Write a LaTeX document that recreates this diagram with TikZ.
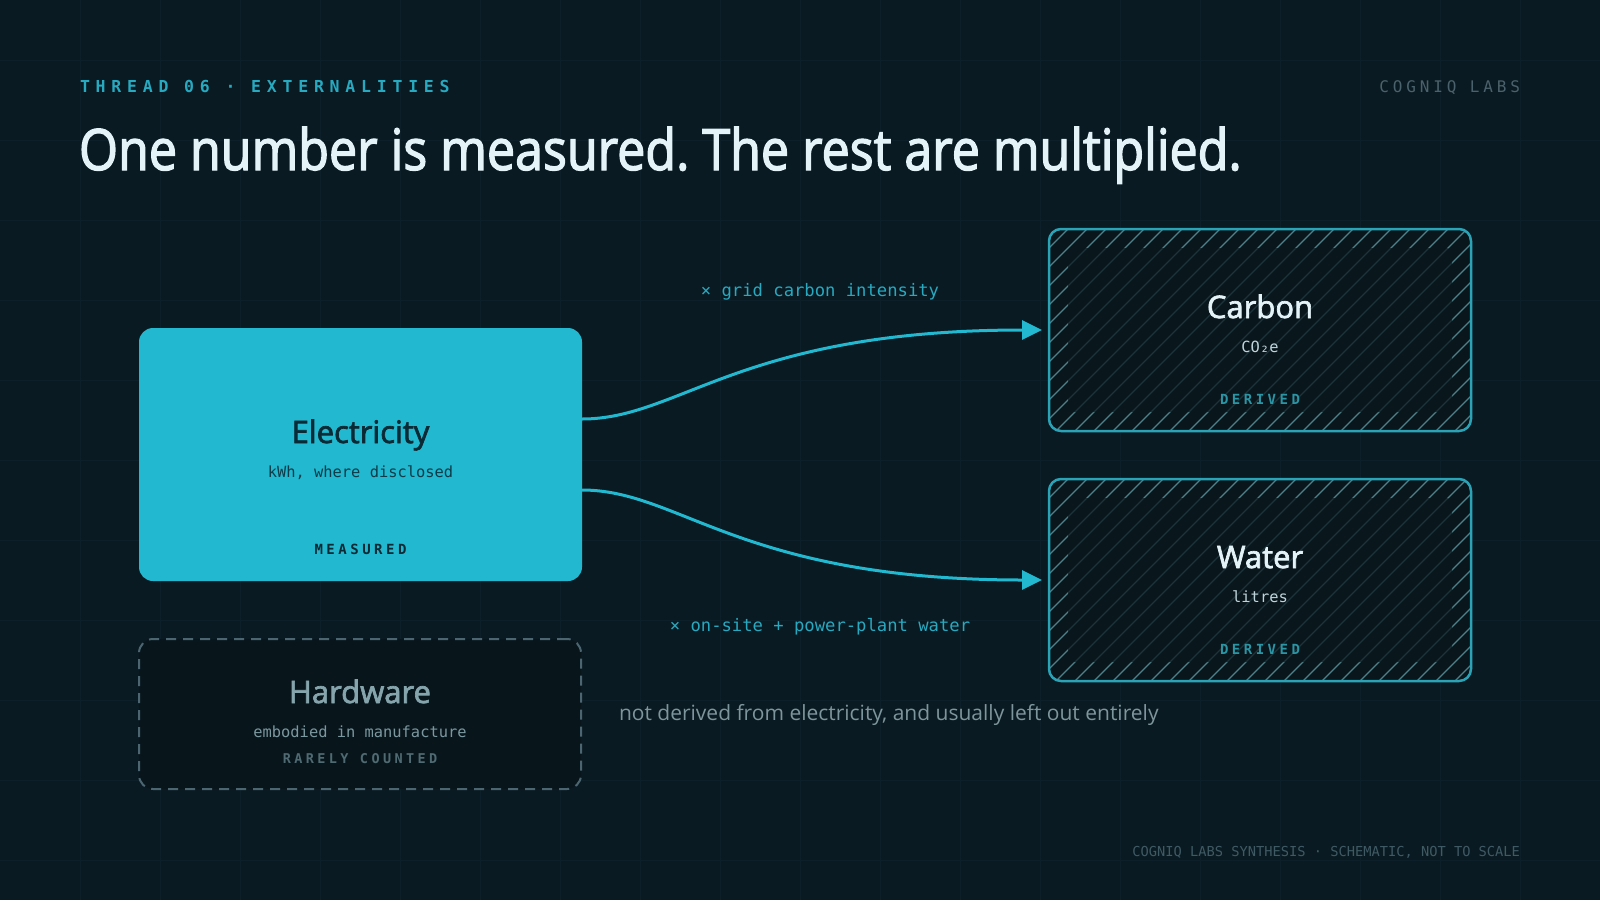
\documentclass[tikz,border=0pt]{standalone}
\usepackage{fontspec}
\usetikzlibrary{arrows.meta,calc}
\setmainfont{Open Sans}
\newfontfamily\semib[FakeBold=2.2]{Open Sans}
\newfontfamily\headf[FakeBold=2.2,FakeStretch=0.88]{Open Sans}
\newfontfamily\mono{DejaVu Sans Mono}
\newfontfamily\trkA[LetterSpace=35]{DejaVu Sans Mono}
\newfontfamily\trkB[LetterSpace=24]{DejaVu Sans Mono}
\newfontfamily\trkC[LetterSpace=25]{DejaVu Sans Mono}
\definecolor{bg}{HTML}{0A1A22}
\definecolor{gridc}{HTML}{0D1F28}
\definecolor{cyanA}{HTML}{22B8CF}
\definecolor{teal}{HTML}{2AA3B6}
\definecolor{tealtxt}{HTML}{27A9C0}
\definecolor{darktxt}{HTML}{0A2A35}
\definecolor{darksub}{HTML}{0E3B49}
\definecolor{white1}{HTML}{E4F3F8}
\definecolor{sub1}{HTML}{BFD5DB}
\definecolor{hatchc}{HTML}{4E8089}
\definecolor{innerc}{HTML}{09161C}
\definecolor{derc}{HTML}{2A95A5}
\definecolor{hwline}{HTML}{4B6670}
\definecolor{hwfill}{HTML}{08161C}
\definecolor{hwtitle}{HTML}{86A4AC}
\definecolor{hwsub}{HTML}{7B979F}
\definecolor{hwtag}{HTML}{4F6A72}
\definecolor{note}{HTML}{7D959C}
\definecolor{brand}{HTML}{4A626B}
\definecolor{foot}{HTML}{3F5A63}
\tikzset{
  lbl/.style={inner sep=0pt, outer sep=0pt, anchor=base},
  elecbox/.style={fill=cyanA, rounded corners=14pt, inner sep=0pt, outer sep=0pt},
  derbox/.style={draw=teal, line width=2.5pt, rounded corners=12pt, inner sep=0pt, outer sep=0pt},
  hwbox/.style={draw=hwline, fill=hwfill, line width=2pt, dash pattern=on 10pt off 7pt, rounded corners=14pt, inner sep=0pt, outer sep=0pt},
  flow/.style={draw=cyanA, line width=3pt, -{Triangle[length=20pt,width=19pt]}, shorten >=7pt},
  boxtitle/.style={lbl, font=\semib\fontsize{31}{36}\selectfont},
  boxsub/.style={lbl, font=\mono\fontsize{15.4}{18}\selectfont},
  boxtag/.style={lbl, font=\trkC\bfseries\fontsize{14}{16}\selectfont},
}
\frenchspacing
\begin{document}
\begin{tikzpicture}[x=1pt,y=-1pt]
\useasboundingbox (0,0) rectangle (1600,900);
\fill[bg] (0,0) rectangle (1600,900);
\foreach \gx in {80,160,...,1520} \draw[gridc, line width=0.8pt] (\gx,0) -- (\gx,900);
\foreach \gy in {60,140,...,860} \draw[gridc, line width=0.8pt] (0,\gy) -- (1600,\gy);

% header
\node[lbl, anchor=base west, text=tealtxt, font=\trkA\bfseries\fontsize{16.5}{20}\selectfont] (kicker) at (80,92) {THREAD 06 · EXTERNALITIES};
\node[lbl, anchor=base east, text=brand, font=\trkB\fontsize{16}{20}\selectfont] (brandtop) at (1520,92) {COGNIQ LABS};
\node[lbl, anchor=base west, text=white1, font=\headf\fontsize{57}{64}\selectfont] (headline) at (79,170) {One number is measured. The rest are multiplied.};

% electricity
\node[elecbox, minimum width=443pt, minimum height=253pt] (elec) at (360.5,454.5) {};
\node[boxtitle, text=darktxt] (elecT) at (360.5,443) {Electricity};
\node[boxsub, text=darksub] (elecS) at (360.5,477) {kWh, where disclosed};
\node[boxtag, text=darktxt] (elecM) at (360.5,554) {MEASURED};

% carbon box with hatch
\begin{scope}
  \clip[rounded corners=12pt] (1049,229) rectangle (1471,431);
  \fill[innerc] (1049,229) rectangle (1471,431);
  \foreach \hx in {847,866,...,1480} \draw[hatchc, line width=1.2pt] (\hx,431) -- ++(202,-202);
  \fill[innerc, opacity=0.72, rounded corners=6pt] (1068,248) rectangle (1452,412);
\end{scope}
\node[derbox, minimum width=422pt, minimum height=202pt] (carbon) at (1260,330) {};
\node[boxtitle, text=white1] (carbT) at (1260,318) {Carbon};
\node[boxsub, text=sub1] (carbS) at (1260,352) {CO₂e};
\node[boxtag, text=derc] (carbD) at (1260,404) {DERIVED};

% water box with hatch
\begin{scope}
  \clip[rounded corners=12pt] (1049,479) rectangle (1471,681);
  \fill[innerc] (1049,479) rectangle (1471,681);
  \foreach \hx in {847,866,...,1480} \draw[hatchc, line width=1.2pt] (\hx,681) -- ++(202,-202);
  \fill[innerc, opacity=0.72, rounded corners=6pt] (1068,498) rectangle (1452,662);
\end{scope}
\node[derbox, minimum width=422pt, minimum height=202pt] (water) at (1260,580) {};
\node[boxtitle, text=white1] (watT) at (1260,568) {Water};
\node[boxsub, text=sub1] (watS) at (1260,602) {litres};
\node[boxtag, text=derc] (watD) at (1260,654) {DERIVED};

% hardware
\node[hwbox, minimum width=442pt, minimum height=150pt] (hw) at (360,714) {};
\node[boxtitle, text=hwtitle] (hwT) at (360,703) {Hardware};
\node[boxsub, text=hwsub] (hwS) at (360,737) {embodied in manufacture};
\node[boxtag, text=hwtag, font=\trkC\bfseries\fontsize{13.5}{16}\selectfont] (hwR) at (360,763) {RARELY COUNTED};

% connectors
\coordinate (e1) at ($(elec.east)+(0,-35.5)$);
\coordinate (e2) at ($(elec.east)+(0,35.5)$);
\draw[flow] (e1) .. controls ($(e1)+(98,0)$) and ($(carbon.west)+(-309,0)$) .. (carbon.west);
\draw[flow] (e2) .. controls ($(e2)+(98,0)$) and ($(water.west)+(-309,0)$) .. (water.west);

\node[lbl, text=tealtxt, font=\mono\fontsize{17.2}{20}\selectfont] (lab1) at (820,296) {× grid carbon intensity};
\node[lbl, text=tealtxt, font=\mono\fontsize{17.2}{20}\selectfont] (lab2) at (820,631) {× on-site + power-plant water};

\node[lbl, anchor=base west, text=note, font=\fontsize{21}{26}\selectfont] (hwnote) at (619,720) {not derived from electricity, and usually left out entirely};

\node[lbl, anchor=base east, text=foot, font=\mono\fontsize{13.7}{16}\selectfont] (footer) at (1520,856) {COGNIQ LABS SYNTHESIS · SCHEMATIC, NOT TO SCALE};
\end{tikzpicture}
\end{document}
